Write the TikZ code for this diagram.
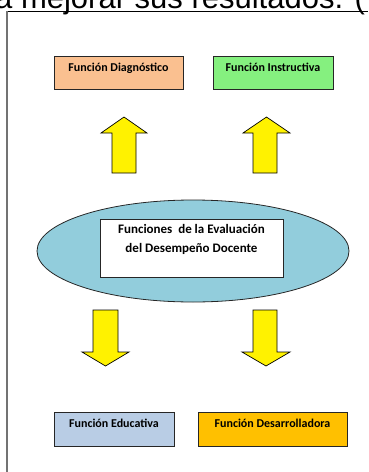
\documentclass[tikz,border=0pt]{standalone}
\usepackage{fontspec}
\setmainfont{Carlito}
\newfontfamily\arialfont{Liberation Sans}
\usetikzlibrary{shapes.geometric}
\definecolor{peach}{HTML}{FAC090}
\definecolor{lightgreen}{HTML}{85F07F}
\definecolor{paleblue}{HTML}{B9CDE5}
\definecolor{amber}{HTML}{FFC000}
\definecolor{lagoon}{HTML}{92CDDC}
\tikzset{
  funcbox/.style={draw=black!85, line width=0.8pt, inner xsep=2pt, inner ysep=4pt,
    text height=11pt, text depth=14pt, minimum height=33pt,
    font=\bfseries\fontsize{12}{14}\selectfont},
  yellowarrow/.style={draw=black, line width=0.7pt, fill=yellow, line join=miter},
}
\begin{document}
\begin{tikzpicture}[x=1pt, y=-1pt]
  \useasboundingbox (0,0) rectangle (368,472);
  \begin{scope}
    \clip (0,0) rectangle (368,472);
    \node[anchor=base west, inner sep=0, font=\arialfont\fontsize{31}{36}\selectfont]
      (prevtext) at (-5,8.5) {a mejorar sus resultados. (};
  \end{scope}
  \draw[black, line width=0.8pt] (7,11) -- (368,11);
  \draw[black!55, line width=1.5pt] (7,11) -- (7,472);

  \node[funcbox, fill=peach, minimum width=129pt] (diag) at (118.5,72.5) {Función Diagnóstico};
  \node[funcbox, fill=lightgreen, minimum width=120pt] (instr) at (273,73) {Función Instructiva};

  \node[ellipse, draw=black!85, line width=0.8pt, fill=lagoon, inner sep=0,
    minimum width=312pt, minimum height=102pt] (eval) at (193,251) {};
  \node[draw=black!85, line width=0.8pt, fill=white, inner sep=0,
    minimum width=183pt, minimum height=58pt] (evalbox) at (191.5,248) {};
  \node[anchor=north, align=center, inner sep=0, yshift=-6pt,
    font=\bfseries\fontsize{13}{19}\selectfont] (evaltext) at (evalbox.north)
    {Funciones\ \ de la Evaluación\\del Desempeño Docente};

  \node[funcbox, fill=paleblue, minimum width=120pt, minimum height=34pt] (educ) at (114,429) {Función Educativa};
  \node[funcbox, fill=amber, minimum width=149pt, minimum height=34pt] (desarr) at (272.5,429) {Función Desarrolladora};

  \draw[yellowarrow] (124,117) -- (147,133) -- (136,133) -- (136,173) -- (112,173) -- (112,133) -- (101,133) -- cycle;
  \draw[yellowarrow] (266.5,117) -- (290,133) -- (277,133) -- (277,173) -- (253,173) -- (253,133) -- (243,133) -- cycle;
  \draw[yellowarrow] (105.5,366) -- (129,352) -- (118,352) -- (118,310) -- (93,310) -- (93,352) -- (82,352) -- cycle;
  \draw[yellowarrow] (266,366) -- (290,352) -- (277,352) -- (277,310) -- (253,310) -- (253,352) -- (242,352) -- cycle;
\end{tikzpicture}
\end{document}
